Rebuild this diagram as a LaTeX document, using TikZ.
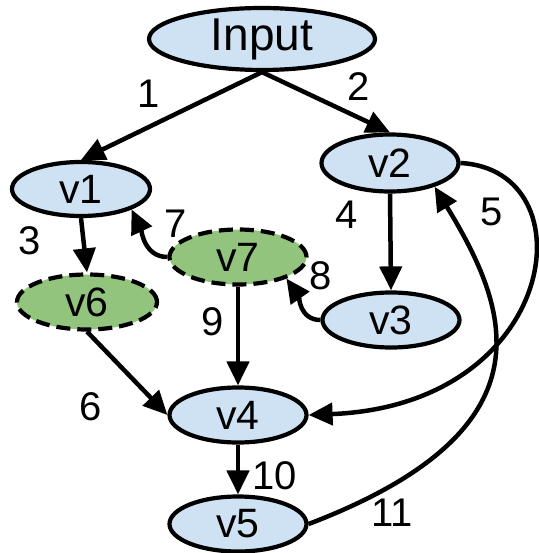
\documentclass[tikz,border=0pt]{standalone}
\usepackage{fontspec}
\setmainfont{Liberation Sans}
\usetikzlibrary{shapes,arrows.meta,positioning}

\definecolor{vblue}{HTML}{CFE2F3}
\definecolor{vgreen}{HTML}{93C47D}

\begin{document}
\begin{tikzpicture}[
    x=1pt, y=1pt,
    vert/.style={ellipse, draw=black, line width=4.2pt, fill=vblue, minimum width=137pt, minimum height=55pt, inner sep=0pt, font=\fontsize{41}{43}\selectfont},
    extra/.style={vert, fill=vgreen, dash pattern=on 14pt off 7pt},
    lab/.style={font=\fontsize{40}{42}\selectfont, inner sep=0pt},
    arrow/.style={-{Triangle[length=24pt, width=22pt]}, line width=4.5pt}
]
\useasboundingbox (0,0) rectangle (538,-553);

% Vertices
\node[vert, minimum width=226pt, minimum height=62pt, font=\fontsize{46}{48}\selectfont] (input) at (262,-39) {Input};
\node[vert, minimum width=138pt, minimum height=54pt] (v1) at (81,-189) {v1};
\node[vert, minimum height=57pt] (v2) at (390,-163) {v2};
\node[extra] (v7) at (238,-257) {v7};
\node[extra, minimum width=140pt] (v6) at (87,-302) {v6};
\node[vert] (v3) at (391,-320) {v3};
\node[vert] (v4) at (238,-415) {v4};
\node[vert] (v5) at (238,-524) {v5};

% Edges
\draw[arrow] (input.south) -- (v1.north);
\draw[arrow] (input.south) -- (v2.north);
\draw[arrow] (v1.south) -- (v6.north);
\draw[arrow] (v2.south) -- (v3.north);
\draw[arrow] (v2.east) .. controls (590,-170) and (560,-405) .. (v4.east);
\draw[arrow] (v6.south) -- (v4.west);
\draw[arrow] (v7.west) to[out=180, in=-65] (v1.-22);
\draw[arrow] (v3.west) to[out=180, in=-55] (v7.-24);
\draw[arrow] (v7.south) -- (v4.north);
\draw[arrow] (v4.south) -- (v5.north);
\draw[arrow] (v5.east) .. controls (555,-430) and (510,-310) .. (v2.-28);

% Edge numbers
\node[lab] (l1) at (149,-94) {1};
\node[lab] (l2) at (359,-87) {2};
\node[lab] (l3) at (30,-241) {3};
\node[lab] (l4) at (347,-215) {4};
\node[lab] (l5) at (492,-212) {5};
\node[lab] (l6) at (91,-407) {6};
\node[lab] (l7) at (176,-224) {7};
\node[lab] (l8) at (321,-276) {8};
\node[lab] (l9) at (213,-322) {9};
\node[lab] (l10) at (275,-476) {10};
\node[lab] (l11) at (392,-513) {11};

\end{tikzpicture}
\end{document}
